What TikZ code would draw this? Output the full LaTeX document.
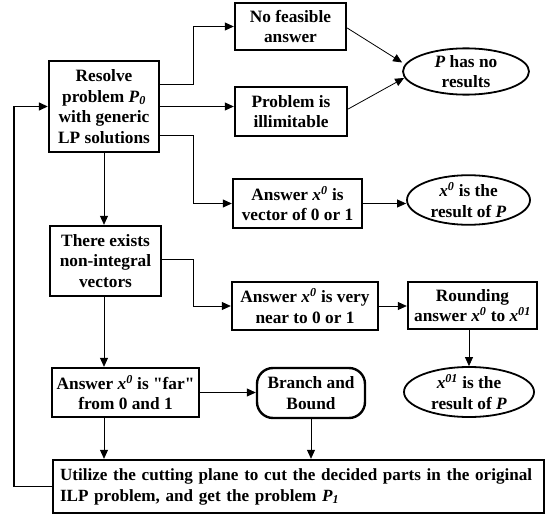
\documentclass[tikz,border=0pt]{standalone}
\usepackage{fontspec}
\setmainfont{Liberation Serif}
\usetikzlibrary{arrows.meta,shapes.geometric}
\begin{document}
\begin{tikzpicture}[x=1pt,y=-1pt,
  txt/.style={font=\fontsize{17.3}{20.5}\selectfont\bfseries},
  box/.style={txt,draw,line width=2.4pt,align=center,inner sep=0pt},
  oval/.style={txt,ellipse,draw,line width=1.8pt,align=center,inner sep=0pt},
  conn/.style={line width=0.8pt,-{Triangle[length=9pt,width=8pt]}},
  back/.style={line width=1.4pt,-{Triangle[length=9pt,width=8pt]}},
]
\useasboundingbox (0,0) rectangle (546,516);
\node[box,minimum width=110pt,minimum height=91pt] (res) at (104,106.5)
  {Resolve\\problem \textit{P}\textsubscript{\textit{0}}\\with generic\\LP solutions};
\node[box,minimum width=111pt,minimum height=47pt] (nofeas) at (290.5,26.5)
  {No feasible\\answer};
\node[box,minimum width=112pt,minimum height=49pt] (illim) at (291,111.5)
  {Problem is\\illimitable};
\node[box,minimum width=129pt,minimum height=49pt] (vec) at (297.5,203.5)
  {Answer \textit{x}\textsuperscript{\textit{0}} is\\vector of 0 or 1};
\node[box,minimum width=111pt,minimum height=70pt] (exists) at (105.5,261)
  {There exists\\non-integral\\vectors};
\node[box,minimum width=146pt,minimum height=48pt] (near) at (305,306)
  {Answer \textit{x}\textsuperscript{\textit{0}} is very\\near to 0 or 1};
\node[box,minimum width=129pt,minimum height=47pt] (round) at (472.5,305.5)
  {Rounding\\answer \textit{x}\textsuperscript{\textit{0}} to \textit{x}\textsuperscript{\textit{01}}};
\node[box,minimum width=147pt,minimum height=49pt] (far) at (125.5,392.5)
  {Answer \textit{x}\textsuperscript{\textit{0}} is \textquotedbl far\textquotedbl\\from 0 and 1};
\node[box,rounded corners=16pt,minimum width=108pt,minimum height=50pt] (branch) at (311,393)
  {Branch and\\Bound};
\node[box,font=\fontsize{17.1}{21}\selectfont\bfseries,align=left,text width=477pt,inner xsep=7pt,minimum height=53pt] (cut) at (298.5,486.5)
  {\hyphenpenalty=10000 Utilize the cutting plane to cut the decided parts in the original\\ILP problem, and get the problem \textit{P}\textsubscript{\textit{1}}};
\node[oval,minimum width=126pt,minimum height=43pt] (pno) at (466,71.5)
  {\textit{P} has no\\results};
\node[oval,minimum width=123pt,minimum height=46pt] (xres) at (468.5,200)
  {\textit{x}\textsuperscript{\textit{0}} is the\\result of \textit{P}};
\node[oval,minimum width=130pt,minimum height=50pt] (xores) at (469,392)
  {\textit{x}\textsuperscript{\textit{01}} is the\\result of \textit{P}};

\draw[conn] ([yshift=22.5pt]res.east) -- ++(33,0) |- (nofeas.west);
\draw[conn] (res.east) -- (res.east -| illim.west);
\draw[conn] ([yshift=-28.5pt]res.east) -- ++(33,0) |- (vec.west);
\draw[conn] (res.south) -- (res.south |- exists.north);
\draw[conn] ([yshift=2pt]exists.east) -- ++(31,0) |- (near.west);
\draw[conn] (near.east) -- (near.east -| round.west);
\draw[conn] (round.south -| xores.north) -- (xores.north);
\draw[conn] (res.south |- exists.south) -- (res.south |- far.north);
\draw[conn] (far.east) -- (far.east -| branch.west);
\draw[conn] (res.south |- far.south) -- (res.south |- cut.north);
\draw[conn] (branch.south) -- (branch.south |- cut.north);
\draw[conn] ([yshift=-1.5pt]nofeas.east) -- ([yshift=9pt]pno.west);
\draw[conn] ([yshift=2.5pt]illim.east) -- ([xshift=2pt,yshift=-6.5pt]pno.west);
\draw[conn] (vec.east) -- (vec.east -| xres.west);
\draw[back] (cut.west) -- ++(-38,0) |- (res.west);
\end{tikzpicture}
\end{document}
